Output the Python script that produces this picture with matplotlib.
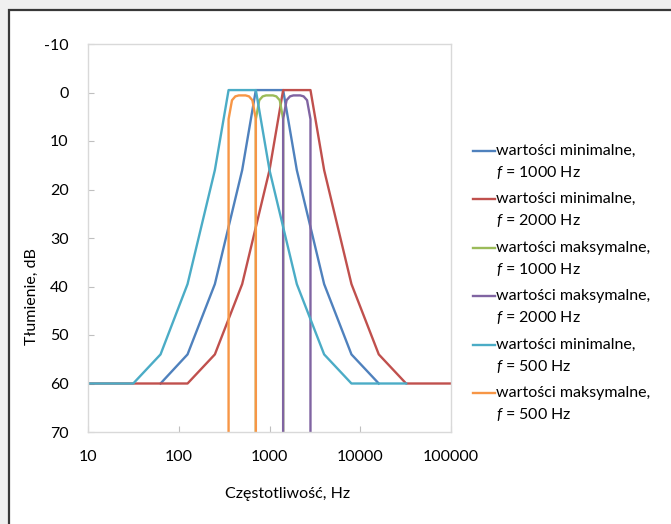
import matplotlib
matplotlib.use('Agg')
import matplotlib.pyplot as plt
from matplotlib.lines import Line2D
from matplotlib.patches import Rectangle

plt.rcParams['font.family'] = ['Lato', 'DejaVu Sans']
plt.rcParams['mathtext.fontset'] = 'custom'
plt.rcParams['mathtext.it'] = 'Lato:italic'
plt.rcParams['mathtext.rm'] = 'Lato'

W, H = 671, 524

# dane (czestotliwosc w Hz, tlumienie w dB)
f_min_1000 = [63, 125, 250, 500, 707, 1414, 2000, 4000, 8000, 16000]
a_min_1000 = [60, 54, 39.5, 16, -0.5, -0.5, 16, 39.5, 54, 60]

f_min_2000 = [10, 125, 250, 500, 1000, 1414, 2828, 4000, 8000, 16000, 32000, 100000]
a_min_2000 = [60, 60, 54, 39.5, 16, -0.5, -0.5, 16, 39.5, 54, 60, 60]

f_max_1000 = [707, 707, 771, 841, 917, 1000, 1091, 1189, 1297, 1414, 1414]
f_max_2000 = [1414, 1414, 1542, 1682, 1834, 2000, 2181, 2378, 2594, 2828, 2828]
a_max = [70, 5.5, 1.6, 0.8, 0.6, 0.6, 0.6, 0.8, 1.6, 5.5, 70]

f_min_500 = [10, 31.5, 63, 125, 250, 354, 707, 1000, 2000, 4000, 8000, 32000]
a_min_500 = [60, 60, 54, 39.5, 16, -0.5, -0.5, 16, 39.5, 54, 60, 60]

f_max_500 = [354, 354, 386, 420, 459, 500, 545, 595, 648, 707, 707]

x_ticks = [10, 100, 1000, 10000, 100000]
y_ticks = [-10, 0, 10, 20, 30, 40, 50, 60, 70]

series = [
    (f_min_1000, a_min_1000, '#4F81BD', 'wartości minimalne,', '$f$ = 1000 Hz'),
    (f_min_2000, a_min_2000, '#C0504D', 'wartości minimalne,', '$f$ = 2000 Hz'),
    (f_max_1000, a_max, '#9BBB59', 'wartości maksymalne,', '$f$ = 1000 Hz'),
    (f_max_2000, a_max, '#8064A2', 'wartości maksymalne,', '$f$ = 2000 Hz'),
    (f_min_500, a_min_500, '#4BACC6', 'wartości minimalne,', '$f$ = 500 Hz'),
    (f_max_500, a_max, '#F79646', 'wartości maksymalne,', '$f$ = 500 Hz'),
]

fig = plt.figure(figsize=(W / 100, H / 100), dpi=100, facecolor='#f0f0f0')

# biale tlo wykresu z ramka (przyciety zrzut ekranu)
fig.patches.append(Rectangle((9 / W, -0.05), 1.2, 1.05 - 10 / H, transform=fig.transFigure,
                             facecolor='white', edgecolor='#383838', linewidth=1.6, zorder=-5))

ax = fig.add_axes([88 / W, 1 - 432 / H, (451 - 88) / W, (432 - 44) / H])
ax.set_facecolor('white')
ax.set_zorder(2)

for f, a, c, l1, l2 in series:
    ax.plot(f, a, color=c, linewidth=1.7, solid_joinstyle='round')

ax.set_xscale('log')
ax.set_xlim(10, 100000)
ax.set_ylim(70, -10)
ax.set_xticks(x_ticks)
ax.set_xticklabels([str(v) for v in x_ticks])
ax.xaxis.set_minor_locator(matplotlib.ticker.NullLocator())
ax.set_yticks(y_ticks)
ax.set_yticklabels([str(v) for v in y_ticks])

for s in ax.spines.values():
    s.set_color('#d9d9d9')
    s.set_linewidth(1.0)
ax.tick_params(axis='both', direction='in', length=4, color='#bfbfbf', labelsize=11.5,
               labelcolor='black')
ax.tick_params(axis='y', pad=14)
ax.tick_params(axis='x', pad=13)

fig.text(32 / W, 1 - 297 / H, 'Tłumienie, dB', rotation=90, ha='center', va='center', fontsize=11.5)
fig.text(288 / W, 1 - 494 / H, 'Częstotliwość, Hz', ha='center', va='center', fontsize=11.5)

# legenda
for i, (f, a, c, l1, l2) in enumerate(series):
    y1 = 150.7 + 48.5 * i
    y2 = y1 + 21.5
    fig.add_artist(Line2D([473 / W, 495 / W], [1 - y1 / H, 1 - y1 / H], color=c, linewidth=1.7,
                          transform=fig.transFigure))
    fig.text(496 / W, 1 - y1 / H, l1, ha='left', va='center', fontsize=11.5)
    fig.text(496 / W, 1 - y2 / H, l2, ha='left', va='center', fontsize=11.5)

fig.savefig('out.png', dpi=100, facecolor=fig.get_facecolor())
